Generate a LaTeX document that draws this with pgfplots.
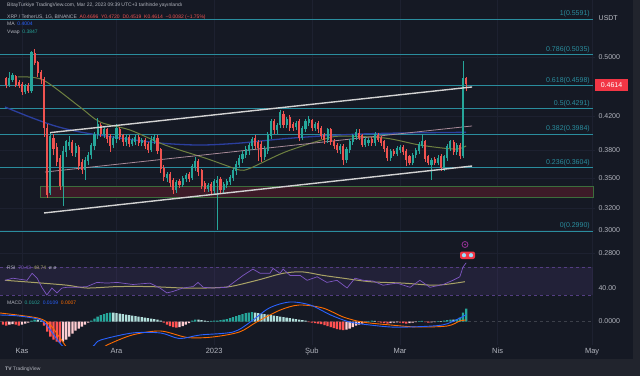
\documentclass[border=0pt]{standalone}
\usepackage{pgfplots}
\pgfplotsset{compat=1.18}
\usepackage{pgfplotstable}
\usepackage{fontspec}
\setmainfont{Liberation Sans}
\definecolor{bg}{HTML}{151924}
\definecolor{strip}{HTML}{21242d}
\definecolor{gridc}{HTML}{1d2130}
\definecolor{txt}{HTML}{b2b5be}
\definecolor{upc}{HTML}{26a69a}
\definecolor{dnc}{HTML}{ef5350}
\definecolor{fibc}{HTML}{2a8d9e}
\definecolor{chan}{HTML}{d2d2d2}
\definecolor{pinkline}{HTML}{a88a98}
\definecolor{mablue}{HTML}{2b3f9e}
\definecolor{maolive}{HTML}{6e8040}
\definecolor{zoneg}{HTML}{3c6e3c}
\definecolor{zoner}{HTML}{3d1b28}
\definecolor{rsip}{HTML}{7e57c2}
\definecolor{rsiy}{HTML}{a8a266}
\definecolor{macdb}{HTML}{2962ff}
\definecolor{macdo}{HTML}{ff6d00}
\definecolor{ht}{HTML}{26a69a}
\definecolor{htl}{HTML}{b2dfdb}
\definecolor{hr}{HTML}{ff5252}
\definecolor{hrl}{HTML}{ffcdd2}
\definecolor{tagred}{HTML}{f23645}

\pgfplotstableread{
d o h l c
-4 0.460 0.478 0.458 0.470
-3 0.468 0.477 0.465 0.474
1 0.451 0.462 0.448 0.460
3 0.452 0.510 0.450 0.507
9 0.335 0.400 0.333 0.395
13 0.342 0.385 0.322 0.378
14 0.378 0.392 0.372 0.389
15 0.385 0.396 0.380 0.388
17 0.377 0.388 0.372 0.384
20 0.358 0.372 0.348 0.368
21 0.368 0.378 0.363 0.374
22 0.374 0.388 0.370 0.385
23 0.385 0.401 0.380 0.398
24 0.397 0.418 0.393 0.409
26 0.398 0.408 0.394 0.404
29 0.386 0.396 0.382 0.393
30 0.393 0.410 0.388 0.405
33 0.389 0.397 0.385 0.394
35 0.387 0.394 0.384 0.391
36 0.389 0.397 0.386 0.394
38 0.388 0.394 0.385 0.391
41 0.380 0.396 0.378 0.391
42 0.390 0.399 0.387 0.394
46 0.350 0.356 0.346 0.353
49 0.338 0.348 0.335 0.345
51 0.343 0.352 0.341 0.349
52 0.349 0.355 0.346 0.352
54 0.350 0.365 0.348 0.362
55 0.360 0.372 0.357 0.367
59 0.339 0.345 0.336 0.342
61 0.337 0.349 0.333 0.346
62 0.345 0.352 0.2995 0.347
64 0.338 0.346 0.335 0.343
65 0.343 0.349 0.340 0.346
66 0.346 0.353 0.343 0.350
67 0.350 0.360 0.347 0.357
68 0.357 0.368 0.353 0.364
69 0.363 0.374 0.360 0.370
70 0.370 0.379 0.366 0.375
71 0.375 0.385 0.371 0.380
72 0.379 0.388 0.375 0.385
73 0.384 0.395 0.380 0.392
77 0.372 0.384 0.369 0.380
78 0.379 0.401 0.376 0.398
79 0.396 0.416 0.393 0.413
81 0.403 0.412 0.399 0.408
82 0.409 0.428 0.405 0.424
84 0.409 0.419 0.405 0.416
87 0.407 0.414 0.403 0.411
89 0.394 0.408 0.391 0.405
90 0.404 0.416 0.401 0.413
91 0.411 0.420 0.408 0.416
93 0.405 0.413 0.402 0.409
97 0.391 0.406 0.388 0.403
101 0.380 0.387 0.376 0.384
103 0.369 0.383 0.366 0.380
104 0.380 0.393 0.377 0.390
105 0.389 0.399 0.386 0.396
106 0.395 0.404 0.392 0.400
109 0.386 0.395 0.383 0.392
110 0.388 0.394 0.385 0.391
112 0.388 0.401 0.385 0.398
117 0.371 0.381 0.368 0.378
119 0.376 0.384 0.373 0.381
120 0.380 0.386 0.377 0.383
124 0.366 0.377 0.363 0.374
125 0.374 0.382 0.371 0.379
126 0.379 0.389 0.376 0.386
127 0.385 0.399 0.382 0.389
130 0.364 0.371 0.348 0.368
132 0.366 0.374 0.363 0.370
134 0.360 0.375 0.357 0.372
135 0.371 0.387 0.368 0.384
136 0.382 0.392 0.379 0.389
138 0.378 0.388 0.375 0.385
140 0.373 0.494 0.371 0.4696
}\upcandles

\pgfplotstableread{
d o h l c
-5 0.469 0.472 0.456 0.460
-2 0.472 0.475 0.458 0.461
-1 0.464 0.467 0.456 0.459
0 0.461 0.464 0.447 0.451
2 0.460 0.463 0.450 0.452
4 0.505 0.512 0.488 0.492
5 0.492 0.495 0.472 0.477
6 0.478 0.482 0.462 0.469
7 0.468 0.472 0.395 0.405
8 0.405 0.410 0.330 0.333
10 0.393 0.398 0.374 0.381
11 0.383 0.388 0.362 0.367
12 0.370 0.374 0.338 0.342
16 0.388 0.392 0.373 0.377
18 0.383 0.386 0.358 0.362
19 0.366 0.370 0.354 0.358
25 0.408 0.412 0.395 0.399
27 0.404 0.406 0.388 0.393
28 0.395 0.398 0.378 0.385
31 0.404 0.407 0.391 0.395
32 0.396 0.399 0.385 0.389
34 0.394 0.397 0.383 0.387
37 0.394 0.397 0.385 0.388
39 0.391 0.394 0.381 0.384
40 0.386 0.389 0.377 0.380
43 0.393 0.397 0.376 0.379
44 0.380 0.382 0.355 0.359
45 0.360 0.363 0.347 0.351
47 0.353 0.356 0.341 0.345
48 0.347 0.350 0.334 0.338
50 0.346 0.349 0.340 0.343
53 0.353 0.356 0.346 0.349
56 0.367 0.370 0.352 0.356
57 0.357 0.359 0.339 0.342
58 0.344 0.347 0.336 0.339
60 0.343 0.346 0.334 0.337
63 0.348 0.351 0.335 0.338
74 0.393 0.397 0.381 0.385
75 0.388 0.391 0.368 0.382
76 0.386 0.390 0.367 0.372
80 0.413 0.417 0.399 0.403
83 0.422 0.426 0.405 0.409
85 0.418 0.421 0.402 0.405
86 0.410 0.413 0.402 0.406
88 0.413 0.416 0.390 0.394
92 0.414 0.417 0.402 0.405
94 0.411 0.414 0.400 0.404
95 0.405 0.408 0.393 0.396
96 0.397 0.400 0.387 0.391
98 0.403 0.406 0.386 0.389
99 0.390 0.393 0.381 0.384
100 0.385 0.388 0.377 0.380
102 0.384 0.387 0.364 0.369
107 0.399 0.404 0.391 0.394
108 0.396 0.399 0.383 0.386
111 0.392 0.395 0.385 0.388
113 0.397 0.400 0.389 0.392
114 0.393 0.396 0.385 0.388
115 0.389 0.392 0.378 0.381
116 0.382 0.385 0.368 0.371
118 0.378 0.381 0.373 0.376
121 0.383 0.386 0.375 0.378
122 0.378 0.381 0.362 0.369
123 0.372 0.375 0.363 0.366
128 0.389 0.392 0.367 0.370
129 0.372 0.375 0.363 0.366
131 0.369 0.372 0.363 0.366
133 0.373 0.376 0.357 0.360
137 0.388 0.391 0.375 0.378
139 0.385 0.388 0.370 0.373
141 0.4696 0.4720 0.4519 0.4614
}\downcandles

\pgfplotsset{
  panel/.style={scale only axis, anchor=south west, width=595pt,
    xmin=-6.984, xmax=181.905,
    axis line style={draw=none}, tick style={draw=none}, major tick length=0pt,
    xtick={0,30,61,92,120,151,181},
    xmajorgrids, grid style={gridc, line width=0.5pt},
    yticklabel pos=right,
    yticklabel style={font=\fontsize{7}{8}\selectfont, text=txt},
    clip mode=individual,
    /pgf/number format/assume math mode=true},
}
\tikzset{
  lbl/.style={font=\fontsize{5}{6}\selectfont, inner sep=0pt, anchor=base west},
  fibl/.style={font=\fontsize{7}{8}\selectfont, text=fibc, inner sep=0pt, anchor=base east},
}

\begin{document}
\begin{tikzpicture}[x=1pt,y=1pt]
\path[use as bounding box] (0,0) rectangle (640,376);
\fill[bg] (0,0) rectangle (640,376);
\fill[strip] (0,0) rectangle (640,17);
\fill[strip] (633,0) rectangle (640,376);

% ---------- price panel ----------
\begin{axis}[panel, at={(0pt,118pt)}, height=258pt,
  ymode=log, ymin=0.27605, ymax=0.59224,
  xticklabels={,,,,,,},
  ytick={0.28,0.30,0.32,0.35,0.38,0.42,0.50},
  yticklabels={0.2800,0.3000,0.3200,0.3500,0.3800,0.4200,0.5000},
  ymajorgrids]
% support / resistance zone
\addplot[fill=zoner, draw=zoneg, line width=0.8pt] coordinates {(5.7,0.3302) (181.3,0.3302) (181.3,0.3409) (5.7,0.3409)} -- cycle;
% fibonacci levels
\addplot[fibc, line width=1pt] coordinates {(-7,0.5591) (181.3,0.5591)};
\addplot[fibc, line width=1pt] coordinates {(-7,0.5035) (181.3,0.5035)};
\addplot[fibc, line width=1pt] coordinates {(-7,0.4598) (181.3,0.4598)};
\addplot[fibc, line width=1pt] coordinates {(-7,0.4291) (181.3,0.4291)};
\addplot[fibc, line width=1pt] coordinates {(-7,0.3984) (181.3,0.3984)};
\addplot[fibc, line width=1pt] coordinates {(-7,0.3604) (181.3,0.3604)};
\addplot[fibc, line width=1pt] coordinates {(-7,0.2990) (181.3,0.2990)};
% moving averages
\addplot[mablue, line width=1.3pt, smooth] coordinates {(-5.4,0.4315) (2.5,0.4189) (10.5,0.4080) (18.4,0.4008) (31.1,0.3937) (43.8,0.3879) (56.5,0.3856) (69.2,0.3879) (81.9,0.3925) (94.6,0.3960) (107.3,0.3984) (120,0.3996) (141,0.4004)};
\addplot[maolive, line width=1pt, smooth] coordinates {(-1.3,0.4716) (6.7,0.4674) (18.4,0.4315) (24.8,0.4128) (34.3,0.4031) (45.4,0.3856) (58.1,0.3711) (64.4,0.3635) (69.2,0.3581) (72.4,0.3600) (83.5,0.3777) (95.6,0.3920) (101,0.3959) (115.2,0.3937) (126.3,0.3856) (137.5,0.3810) (141,0.3847)};
% middle trend line
\addplot[pinkline, line width=0.8pt] coordinates {(7.3,0.3560) (142.9,0.4080)};
% candles: wicks
\addplot[draw=none, mark=none, error bars/.cd, y dir=plus, y explicit, error mark=none,
  error bar style={draw=upc, line width=0.55pt}]
  table[x=d, y=l, y error expr=\thisrow{h}-\thisrow{l}] {\upcandles};
\addplot[draw=none, mark=none, error bars/.cd, y dir=plus, y explicit, error mark=none,
  error bar style={draw=dnc, line width=0.55pt}]
  table[x=d, y=l, y error expr=\thisrow{h}-\thisrow{l}] {\downcandles};
% candles: bodies
\addplot[draw=none, mark=none, error bars/.cd, y dir=plus, y explicit, error mark=none,
  error bar style={draw=upc, line width=2.1pt}]
  table[x=d, y=o, y error expr=\thisrow{c}-\thisrow{o}+0.0008] {\upcandles};
\addplot[draw=none, mark=none, error bars/.cd, y dir=plus, y explicit, error mark=none,
  error bar style={draw=dnc, line width=2.1pt}]
  table[x=d, y=c, y error expr=\thisrow{o}-\thisrow{c}+0.0008] {\downcandles};
% channel
\addplot[chan, line width=1.4pt] coordinates {(8.9,0.4000) (142.9,0.4579)};
\addplot[chan, line width=1.4pt] coordinates {(7.0,0.3154) (142.9,0.3624)};
% fib labels
\node[fibl] at (axis cs:180.3,0.5591) [yshift=3.5pt] {1(0.5591)};
\node[fibl] at (axis cs:180.3,0.5035) [yshift=3.5pt] {0.786(0.5035)};
\node[fibl] at (axis cs:180.3,0.4598) [yshift=3.5pt] {0.618(0.4598)};
\node[fibl] at (axis cs:180.3,0.4291) [yshift=3.5pt] {0.5(0.4291)};
\node[fibl] at (axis cs:180.3,0.3984) [yshift=3.5pt] {0.382(0.3984)};
\node[fibl] at (axis cs:180.3,0.3604) [yshift=3.5pt] {0.236(0.3604)};
\node[fibl] at (axis cs:180.3,0.2990) [yshift=3.5pt] {0(0.2990)};
\end{axis}

% ---------- RSI panel ----------
\begin{axis}[panel, at={(0pt,76pt)}, height=42pt,
  ymin=22.857, ymax=82.857, xticklabels={,,,,,,},
  ytick={40}, yticklabels={40.00}]
\addplot[draw=none, fill=rsip, fill opacity=0.13] coordinates {(-7,30) (181.3,30) (181.3,70) (-7,70)} -- cycle;
\addplot[rsip!60!bg, dashed, line width=0.4pt] coordinates {(-7,70) (181.3,70)};
\addplot[rsip!60!bg, dashed, line width=0.4pt] coordinates {(-7,30) (181.3,30)};
\addplot[rsiy, line width=1pt, smooth] coordinates {(-5.4,51) (3.5,48) (14.3,44) (20.6,40) (30.2,42) (40.6,42) (51.1,40) (58.6,40) (66,42) (74.6,51) (82.9,61) (89,63) (95.6,58) (102,54) (110.5,49) (121,47) (131.5,44) (140.6,49)};
\addplot[rsip, line width=0.7pt] coordinates {(-5.4,51) (-2.9,54) (1.6,51) (3.2,61) (4.8,54) (6.3,41) (7.9,30) (9.5,40) (11.1,33) (12.7,40) (14.3,41) (17.5,41) (20.6,42) (23.8,48) (27,47) (30.2,48) (35.2,45) (40.6,47) (43.8,40) (46,33) (47.9,35) (51.1,40) (54.3,42) (55.9,48) (57.5,41) (60.6,40) (65.1,41) (66,44) (70.2,58) (73.3,67) (75.6,61) (78.7,61) (79.7,68) (81.9,61) (82.9,67) (85.1,58) (88.3,58) (90.5,51) (93.7,56) (96.8,48) (100,51) (103.2,40) (105.7,54) (108.3,51) (111.4,50) (114.6,44) (119,47) (123.2,41) (126.3,51) (129.5,41) (133.7,45) (136.8,51) (139,56) (140,70) (141,76)};
\end{axis}

% ---------- MACD panel ----------
\begin{axis}[panel, at={(0pt,31pt)}, height=45pt,
  ymin=-23.5, ymax=21.5,
  xticklabels={Kas,Ara,2023,Şub,Mar,Nis,May},
  xticklabel style={font=\fontsize{7.5}{8}\selectfont, text=txt},
  ytick={0}, yticklabels={0.0000}]
\addplot[txt!25!bg, dashed, line width=0.4pt] coordinates {(-7,0) (181.3,0)};
\addplot[ybar, bar width=2.3pt, bar shift=0pt, fill=ht, draw=none] coordinates {(3,1) (4,2) (22,1) (23,3) (24,5) (25,6.5) (26,7.5) (27,8.5) (28,9) (54,1) (55,2) (60,0.6) (61,0.8) (62,1) (63,1.5) (64,2) (65,2.5) (66,3.5) (67,4.5) (68,5.5) (69,6.5) (70,7.5) (71,8.5) (72,9) (73,9.5) (110,0.5) (111,0.8) (126,0.5) (127,0.7) (132,0.5) (134,1) (135,1.5) (136,2) (138,2.5) (139,4) (140,9) (141,13)};
\addplot[ybar, bar width=2.3pt, bar shift=0pt, fill=htl, draw=none] coordinates {(5,2) (6,1) (29,9) (30,8.5) (31,8) (32,7.5) (33,7) (34,6.5) (35,6) (36,5.5) (37,5) (38,4.5) (39,4) (40,3.5) (41,3) (42,2.5) (43,2) (44,1) (56,2) (57,1.5) (58,0.8) (59,0.5) (74,9) (75,8.5) (76,8) (77,7.5) (78,7) (79,6.5) (80,6) (81,5.5) (82,5) (83,4.5) (84,4) (85,3.5) (86,3) (87,2.5) (88,2) (89,1.5) (90,1) (112,0.6) (133,0.4) (137,2)};
\addplot[ybar, bar width=2.3pt, bar shift=0pt, fill=hr, draw=none] coordinates {(-6,-3) (-5,-4) (-2,-3) (-1,-4) (7,-4) (8,-10) (9,-15) (10,-18) (11,-20) (12,-21) (45,-1) (46,-3) (47,-4.5) (48,-5.5) (49,-6) (91,-0.5) (92,-1) (93,-1.5) (94,-2) (95,-2.5) (96,-3.5) (97,-4.5) (98,-5.5) (99,-6.5) (100,-7.5) (101,-8) (102,-8.5) (113,-0.5) (114,-1) (115,-1.5) (116,-2) (120,-1) (121,-1.5) (122,-2) (128,-0.5) (129,-1)};
\addplot[ybar, bar width=2.3pt, bar shift=0pt, fill=hrl, draw=none] coordinates {(-4,-3) (-3,-2.5) (0,-3) (1,-2) (2,-1) (13,-20) (14,-18) (15,-15) (16,-12) (17,-9) (18,-7) (19,-5) (20,-3) (21,-1) (50,-5.5) (51,-4.5) (52,-3) (53,-1.5) (103,-8) (104,-7) (105,-5.5) (106,-4) (107,-3) (108,-2) (109,-1) (117,-1.5) (118,-1) (119,-0.8) (123,-1.5) (124,-1) (125,-0.5) (130,-0.8) (131,-0.5)};
\addplot[macdo, line width=0.9pt, smooth] coordinates {(-7,8.5) (5,3.5) (9,-3.5) (12,-16) (16,-30) (25,-28) (27,-23.5) (35,-13.5) (44,-9.5) (52.5,-16) (60.5,-15.5) (69,-10.5) (74.5,-0.5) (82,11.5) (88,16.5) (95.5,13.5) (102,4.5) (108,-0.5) (117,-3.5) (125.5,-5.5) (135,-4.5) (139,0.5) (141,1.5)};
\addplot[macdb, line width=0.9pt, smooth] coordinates {(-7,6.5) (-1,5.5) (6,1.5) (9,-8.5) (12,-21.5) (15,-30) (20,-30) (23,-23.5) (25,-18.5) (35,-11.5) (44,-11.5) (50,-17) (56.5,-13.5) (67,-10.5) (72.5,-0.5) (78.5,13.5) (85,19.5) (91.5,16.5) (98,6.5) (104,-0.5) (110.5,-3.5) (117,-5.5) (123,-5.5) (133.5,-3.5) (139,3.5) (141,7)};
\end{axis}

% ---------- texts and decorations ----------
\node[lbl, text=txt] at (7,369.5) {BitayTurkiye TradingView.com, Mar 22, 2023 09:39 UTC+3 tarihinde yayınlandı};
\node[lbl] at (7,358) {\textcolor{txt}{XRP / TetherUS, 1G, BINANCE}\ \ \textcolor{dnc}{A0.4696\ \ Y0.4720\ \ D0.4519\ \ K0.4614\ \ −0.0082 (−1.75\%)}};
\node[lbl] at (7,350.5) {\textcolor{txt}{MA}\ \ \textcolor{macdb}{0.4004}};
\node[lbl] at (7,343) {\textcolor{txt}{Vwap}\ \ \textcolor{upc}{0.3847}};
\node[lbl] at (7,106.5) {\textcolor{txt}{RSI}\ \ \textcolor{rsip}{70.43}\ \ \textcolor{rsiy}{48.74}\ \ \textcolor{txt}{ø\ ø}};
\node[lbl] at (7,71.5) {\textcolor{txt}{MACD}\ \ \textcolor{upc}{0.0102}\ \ \textcolor{macdb}{0.0109}\ \ \textcolor{macdo}{0.0007}};
\node[lbl, text=txt] at (5,6) {\textbf{TV} TradingView};
\node[anchor=west, inner sep=0pt, font=\fontsize{7}{8}\selectfont, text=txt!85!white] at (598.5,358) {USDT};
\node[fill=tagred, text=white, font=\fontsize{7}{8}\selectfont, inner sep=0pt, minimum width=33pt, minimum height=12pt] at (611.5,291) {0.4614};
\draw[violet!80!white, line width=0.8pt] (465,131.5) circle (3);
\fill[violet!80!white] (465,131.5) circle (1);
\fill[tagred, rounded corners=2pt] (460,117) rectangle (475,124.5);
\fill[cyan!40!white] (464,120.8) circle (2.1);
\fill[cyan!40!white] (471,120.8) circle (2.1);
\end{tikzpicture}
\end{document}
